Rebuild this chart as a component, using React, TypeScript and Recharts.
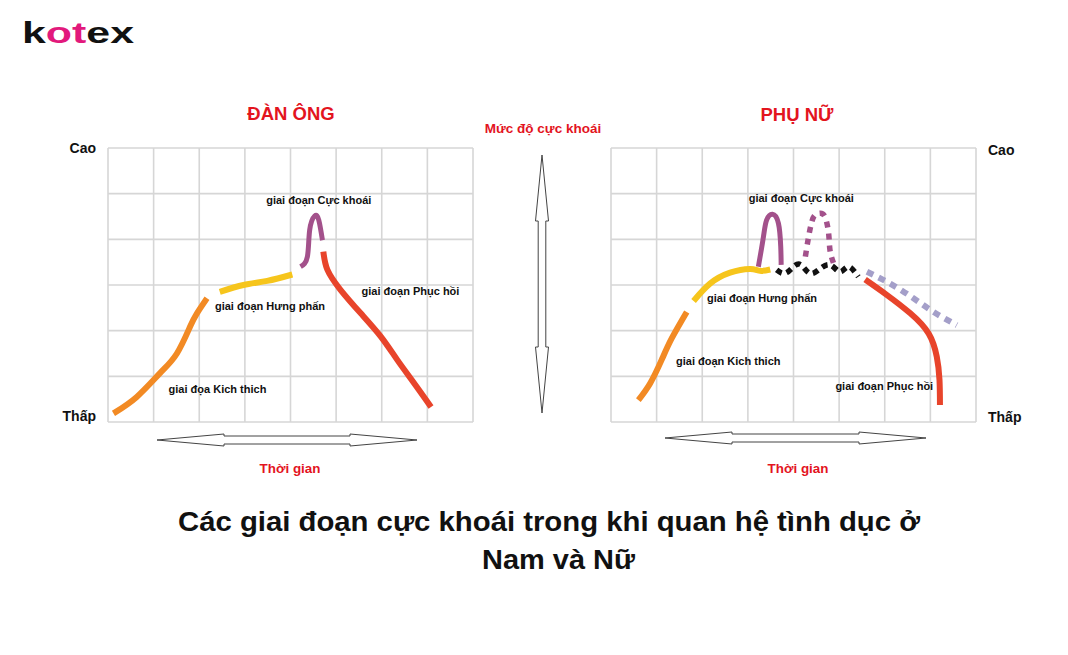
import { LineChart, Line, XAxis, YAxis, CartesianGrid, ReferenceDot } from 'recharts';

const FONT = '"Liberation Sans", Arial, sans-serif';

// grid ticks (8 time columns, 6 intensity rows)
const xTicks = [0, 1, 2, 3, 4, 5, 6, 7, 8];
const yTicks = [0, 1, 2, 3, 4, 5, 6];

// ĐÀN ÔNG
const menExcitement = [
  { x: 0.12, y: 0.19 }, { x: 0.63, y: 0.55 }, { x: 1.14, y: 1.07 }, { x: 1.51, y: 1.5 },
  { x: 1.8, y: 2.09 }, { x: 1.95, y: 2.38 }, { x: 2.17, y: 2.71 },
];
const menPlateau = [
  { x: 2.45, y: 2.85 }, { x: 2.97, y: 3.0 }, { x: 3.49, y: 3.09 }, { x: 4.04, y: 3.23 },
];
const menOrgasm = [
  { x: 4.22, y: 3.4 }, { x: 4.37, y: 3.62 }, { x: 4.42, y: 4.2 }, { x: 4.53, y: 4.51 },
  { x: 4.62, y: 4.42 }, { x: 4.7, y: 3.98 },
];
const menResolution = [
  { x: 4.72, y: 3.73 }, { x: 4.81, y: 3.33 }, { x: 5.1, y: 2.89 }, { x: 5.54, y: 2.38 },
  { x: 5.98, y: 1.87 }, { x: 6.34, y: 1.36 }, { x: 6.71, y: 0.85 }, { x: 7.08, y: 0.33 },
];

// PHỤ NỮ
const womenExcitement = [
  { x: 0.6, y: 0.48 }, { x: 0.86, y: 0.85 }, { x: 1.11, y: 1.36 }, { x: 1.33, y: 1.83 },
  { x: 1.66, y: 2.41 },
];
const womenPlateau = [
  { x: 1.81, y: 2.65 }, { x: 2.17, y: 3.03 }, { x: 2.61, y: 3.27 }, { x: 3.05, y: 3.35 },
  { x: 3.27, y: 3.31 }, { x: 3.49, y: 3.34 },
];
const womenOrgasm = [
  { x: 3.23, y: 3.4 }, { x: 3.34, y: 4.05 }, { x: 3.41, y: 4.42 }, { x: 3.54, y: 4.55 },
  { x: 3.67, y: 4.35 }, { x: 3.72, y: 3.84 }, { x: 3.73, y: 3.44 },
];
const womenOrgasm2 = [
  { x: 4.26, y: 3.62 }, { x: 4.33, y: 4.05 }, { x: 4.4, y: 4.38 }, { x: 4.47, y: 4.53 },
  { x: 4.58, y: 4.57 }, { x: 4.69, y: 4.49 }, { x: 4.77, y: 4.13 }, { x: 4.8, y: 3.76 },
  { x: 4.88, y: 3.47 },
];
const womenMultiple = [
  { x: 3.63, y: 3.33 }, { x: 3.85, y: 3.27 }, { x: 4.11, y: 3.46 }, { x: 4.33, y: 3.27 },
  { x: 4.55, y: 3.33 }, { x: 4.8, y: 3.44 }, { x: 5.02, y: 3.29 }, { x: 5.2, y: 3.4 },
  { x: 5.42, y: 3.18 },
];
const womenSlowResolution = [
  { x: 5.61, y: 3.29 }, { x: 6.12, y: 3.03 }, { x: 6.63, y: 2.71 }, { x: 7.07, y: 2.41 },
  { x: 7.58, y: 2.12 },
];
const womenResolution = [
  { x: 5.57, y: 3.12 }, { x: 6.05, y: 2.78 }, { x: 6.56, y: 2.38 }, { x: 6.96, y: 1.94 },
  { x: 7.14, y: 1.43 }, { x: 7.2, y: 0.92 }, { x: 7.21, y: 0.37 },
];

const menLabels = [
  { text: 'giai đoạn Cực khoái', x: 4.62, y: 4.86 },
  { text: 'giai đoạn Hưng phấn', x: 3.55, y: 2.54 },
  { text: 'giai đoạn Phục hồi', x: 6.63, y: 2.87 },
  { text: 'giai đọa Kich thich', x: 2.4, y: 0.72 },
];
const womenLabels = [
  { text: 'giai đoạn Cực khoái', x: 4.17, y: 4.9 },
  { text: 'giai đoạn Hưng phấn', x: 3.31, y: 2.71 },
  { text: 'giai đoạn Kich thich', x: 2.57, y: 1.33 },
  { text: 'giai đoạn Phục hồi', x: 5.99, y: 0.79 },
];

const ORANGE = '#f28a24';
const YELLOW = '#f6c51c';
const PURPLE = '#a3518b';
const RED = '#e8442b';
const LAVENDER = '#a49fc9';

type Pt = { x: number; y: number };
type Series = { data: Pt[]; color: string; width?: number; dash?: string };

const menSeries: Series[] = [
  { data: menExcitement, color: ORANGE },
  { data: menPlateau, color: YELLOW },
  { data: menOrgasm, color: PURPLE, width: 5 },
  { data: menResolution, color: RED },
];
const womenSeries: Series[] = [
  { data: womenExcitement, color: ORANGE },
  { data: womenPlateau, color: YELLOW },
  { data: womenOrgasm, color: PURPLE, width: 5 },
  { data: womenOrgasm2, color: PURPLE, width: 5.5, dash: '6 6' },
  { data: womenMultiple, color: '#111', width: 5.5, dash: '6 5' },
  { data: womenSlowResolution, color: LAVENDER, width: 6, dash: '7 6' },
  { data: womenResolution, color: RED },
];

const StageChart = ({ series, labels, left }: { series: Series[]; labels: typeof menLabels; left: number }) => (
  <div style={{ position: 'absolute', left, top: 138 }}>
    <LineChart width={385} height={294} margin={{ top: 10, right: 10, bottom: 10, left: 10 }}>
      <CartesianGrid stroke="#d6d6d6" strokeWidth={1.6} />
      <XAxis type="number" dataKey="x" domain={[0, 8]} ticks={xTicks} hide allowDataOverflow />
      <YAxis type="number" dataKey="y" domain={[0, 6]} ticks={yTicks} hide allowDataOverflow />
      {series.map((s, i) => (
        <Line
          key={i}
          data={s.data}
          dataKey="y"
          type="natural"
          stroke={s.color}
          strokeWidth={s.width ?? 6}
          strokeDasharray={s.dash}
          dot={false}
          activeDot={false}
          isAnimationActive={false}
        />
      ))}
      {labels.map((l) => (
        <ReferenceDot
          key={l.text}
          x={l.x}
          y={l.y}
          r={0}
          shape={(p: any) => (
            <text
              x={p.cx}
              y={p.cy}
              textAnchor="middle"
              dominantBaseline="central"
              fontFamily={FONT}
              fontSize={11}
              fontWeight="bold"
              fill="#111"
            >
              {l.text}
            </text>
          )}
        />
      ))}
    </LineChart>
  </div>
);

const hArrow = (x1: number, x2: number, y: number) => {
  const hl = 67, hh = 6, sh = 4;
  return `${x1},${y} ${x1 + hl},${y - hh} ${x1 + hl},${y - sh} ${x2 - hl},${y - sh} ${x2 - hl},${y - hh} ${x2},${y} ${x2 - hl},${y + hh} ${x2 - hl},${y + sh} ${x1 + hl},${y + sh} ${x1 + hl},${y + hh}`;
};
const vArrow = (x: number, y1: number, y2: number) => {
  const hl = 66, hw = 6.5, sw = 3.8;
  return `${x},${y1} ${x + hw},${y1 + hl} ${x + sw},${y1 + hl} ${x + sw},${y2 - hl} ${x + hw},${y2 - hl} ${x},${y2} ${x - hw},${y2 - hl} ${x - sw},${y2 - hl} ${x - sw},${y1 + hl} ${x - hw},${y1 + hl}`;
};

export default function App() {
  return (
    <div style={{ position: 'absolute', left: 0, top: 0, width: 1068, height: 655, background: '#fff', overflow: 'hidden' }}>
      <svg width={1068} height={655} style={{ position: 'absolute', left: 0, top: 0 }} fontFamily={FONT}>
        <text x={22} y={43} fontSize={29} fontWeight="bold" textLength={112} lengthAdjust="spacingAndGlyphs">
          <tspan fill="#111">k</tspan>
          <tspan fill="#e2197c">ot</tspan>
          <tspan fill="#111">ex</tspan>
        </text>

        <text x={291} y={120} textAnchor="middle" fontSize={18.5} fontWeight="bold" fill="#e3141e">ĐÀN ÔNG</text>
        <text x={797} y={121} textAnchor="middle" fontSize={18.5} fontWeight="bold" fill="#e3141e">PHỤ NỮ</text>
        <text x={543} y={133} textAnchor="middle" fontSize={13.5} fontWeight="bold" fill="#e3141e">Mức độ cực khoái</text>

        <text x={96} y={153} textAnchor="end" fontSize={14} fontWeight="bold" fill="#111">Cao</text>
        <text x={96} y={421} textAnchor="end" fontSize={14} fontWeight="bold" fill="#111">Thấp</text>
        <text x={988} y={155} fontSize={14} fontWeight="bold" fill="#111">Cao</text>
        <text x={988} y={422} fontSize={14} fontWeight="bold" fill="#111">Thấp</text>

        <polygon points={vArrow(542, 155, 413)} fill="#fff" stroke="#444" strokeWidth={1} />
        <polygon points={hArrow(157, 417, 440)} fill="#fff" stroke="#444" strokeWidth={1} />
        <polygon points={hArrow(665, 926, 438)} fill="#fff" stroke="#444" strokeWidth={1} />

        <text x={290} y={473} textAnchor="middle" fontSize={13.4} fontWeight="bold" fill="#e3141e">Thời gian</text>
        <text x={798} y={473} textAnchor="middle" fontSize={13.4} fontWeight="bold" fill="#e3141e">Thời gian</text>

        <text x={178} y={531} fontSize={28.5} fontWeight="bold" fill="#111" textLength={742} lengthAdjust="spacingAndGlyphs">
          Các giai đoạn cực khoái trong khi quan hệ tình dục ở
        </text>
        <text x={482} y={569} fontSize={28.5} fontWeight="bold" fill="#111" textLength={153} lengthAdjust="spacingAndGlyphs">
          Nam và Nữ
        </text>
      </svg>

      <StageChart series={menSeries} labels={menLabels} left={98} />
      <StageChart series={womenSeries} labels={womenLabels} left={601} />
    </div>
  );
}
